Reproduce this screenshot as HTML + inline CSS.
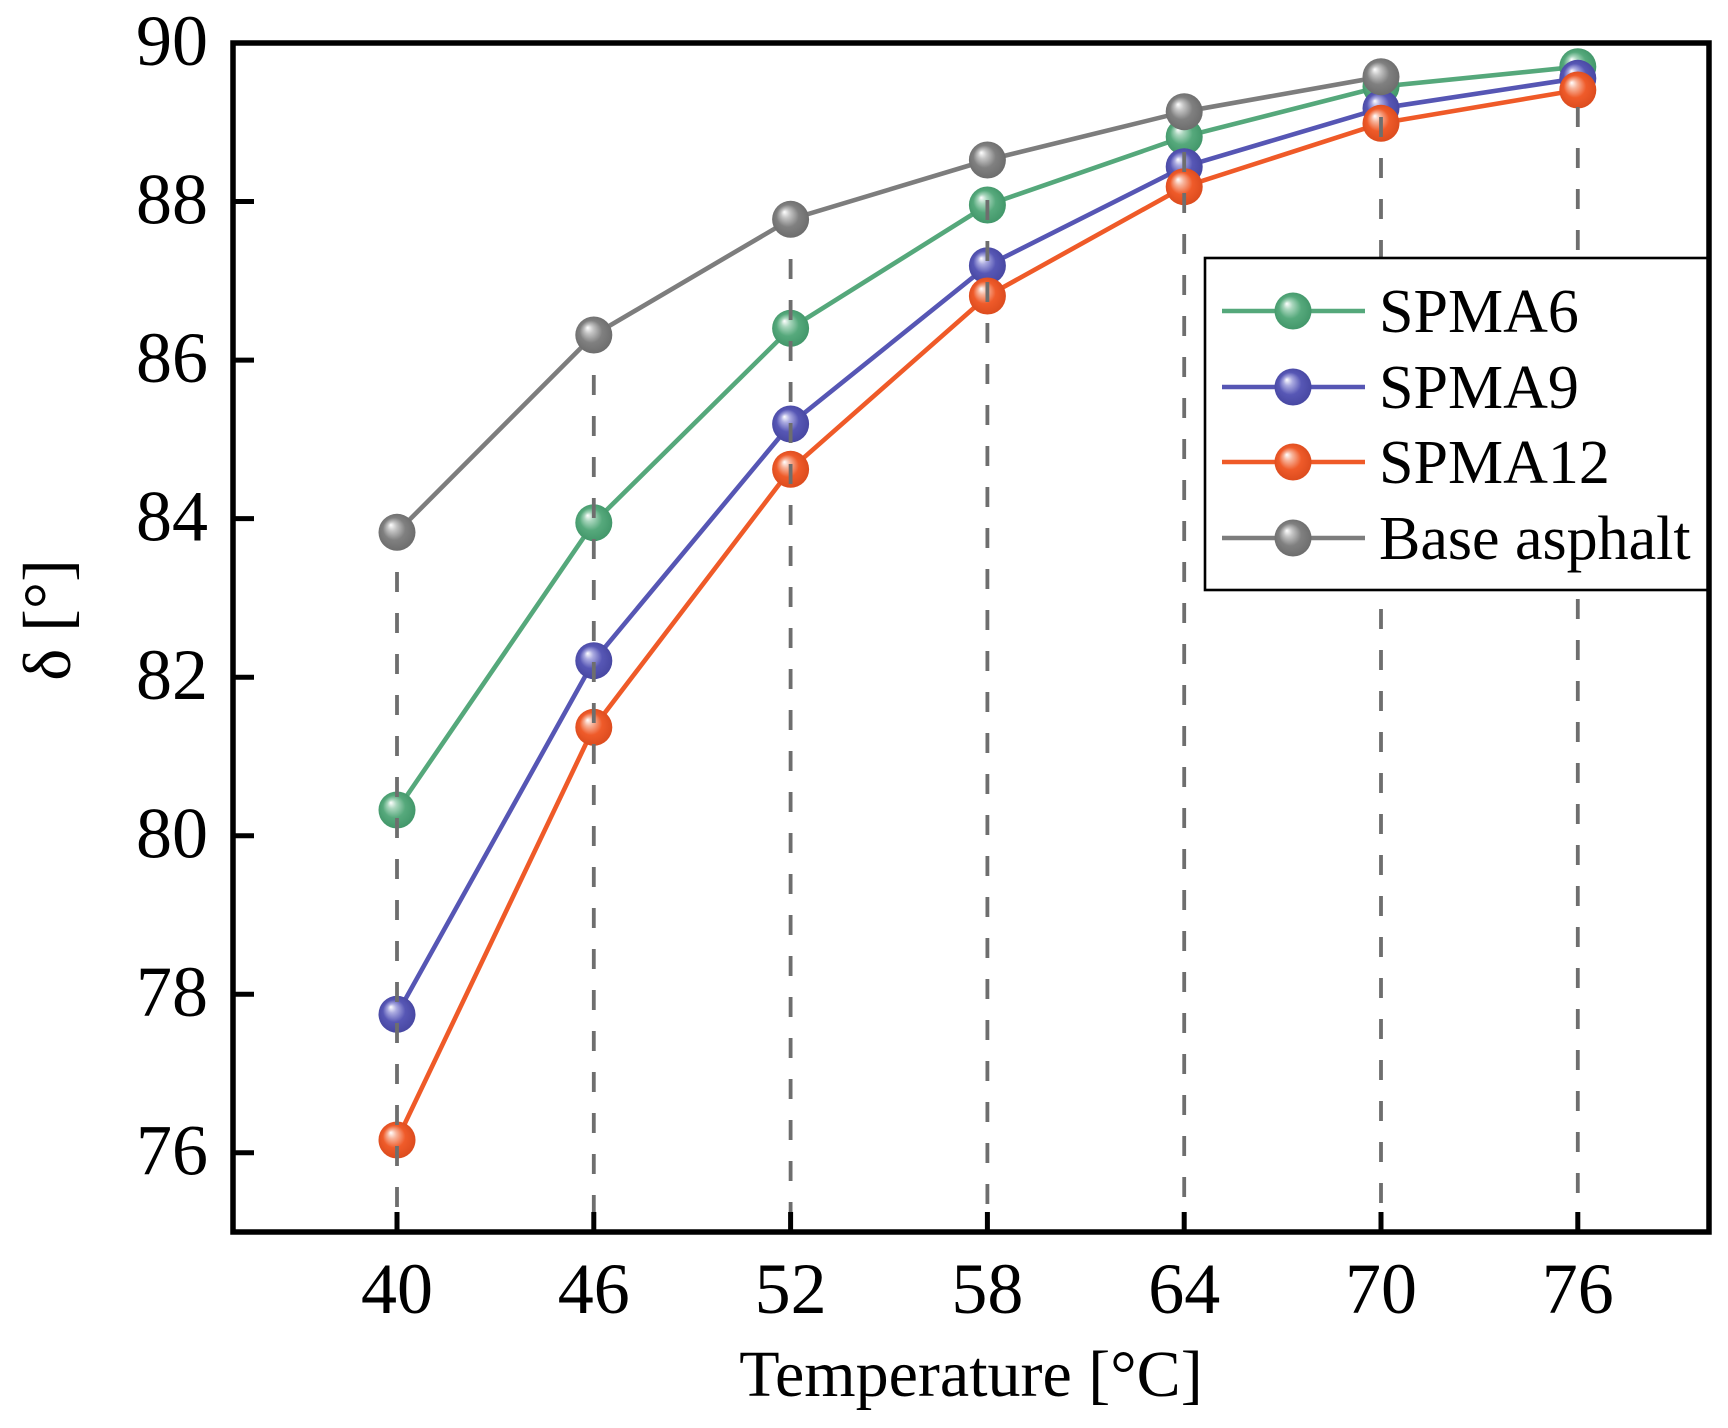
<!DOCTYPE html>
<html>
<head>
<meta charset="utf-8">
<style>
html,body{margin:0;padding:0;background:#fff;}
svg{display:block;}
text{font-family:"Liberation Serif","Times New Roman",serif;fill:#000;}
</style>
</head>
<body>
<svg width="1728" height="1428" viewBox="0 0 1728 1428" xmlns="http://www.w3.org/2000/svg">
<defs>
  <radialGradient id="gG" cx="0.5" cy="0.5" r="0.55" fx="0.33" fy="0.3">
    <stop offset="0" stop-color="#ffffff"/>
    <stop offset="0.22" stop-color="#a9d6bd"/>
    <stop offset="0.55" stop-color="#56a97c"/>
    <stop offset="1" stop-color="#3f9467"/>
  </radialGradient>
  <radialGradient id="gB" cx="0.5" cy="0.5" r="0.55" fx="0.33" fy="0.3">
    <stop offset="0" stop-color="#ffffff"/>
    <stop offset="0.22" stop-color="#aaaae0"/>
    <stop offset="0.55" stop-color="#5757b5"/>
    <stop offset="1" stop-color="#45459f"/>
  </radialGradient>
  <radialGradient id="gO" cx="0.5" cy="0.5" r="0.55" fx="0.33" fy="0.3">
    <stop offset="0" stop-color="#ffffff"/>
    <stop offset="0.22" stop-color="#f7b39a"/>
    <stop offset="0.55" stop-color="#ef5b2a"/>
    <stop offset="1" stop-color="#d9491c"/>
  </radialGradient>
  <radialGradient id="gK" cx="0.5" cy="0.5" r="0.55" fx="0.33" fy="0.3">
    <stop offset="0" stop-color="#ffffff"/>
    <stop offset="0.22" stop-color="#c4c4c4"/>
    <stop offset="0.55" stop-color="#808080"/>
    <stop offset="1" stop-color="#6a6a6a"/>
  </radialGradient>
</defs>

<rect width="1728" height="1428" fill="#fff"/>

<!-- series lines -->
<g fill="none" stroke-width="4.6" stroke-linejoin="round" stroke-linecap="round">
  <polyline stroke="#55a87b" points="397,810 593.8,522.7 790.6,328.3 987.4,205 1184.2,136.7 1381,86.6 1577.8,66.7"/>
  <polyline stroke="#5656b4" points="397,1014.3 593.8,660.7 790.6,424 987.4,265.7 1184.2,166.7 1381,108.3 1577.8,78.3"/>
  <polyline stroke="#ef5a28" points="397,1140 593.8,727.3 790.6,469.3 987.4,296 1184.2,186.7 1381,123.3 1577.8,90"/>
  <polyline stroke="#7d7d7d" points="397,532.3 593.8,335 790.6,219.3 987.4,160 1184.2,111.7 1381,76.7"/>
</g>

<!-- markers: green -->
<g fill="url(#gG)">
  <circle cx="397" cy="810" r="18.5"/>
  <circle cx="593.8" cy="522.7" r="18.5"/>
  <circle cx="790.6" cy="328.3" r="18.5"/>
  <circle cx="987.4" cy="205" r="18.5"/>
  <circle cx="1184.2" cy="136.7" r="18.5"/>
  <circle cx="1381" cy="86.6" r="18.5"/>
  <circle cx="1577.8" cy="66.7" r="18.5"/>
</g>
<!-- blue -->
<g fill="url(#gB)">
  <circle cx="397" cy="1014.3" r="18.5"/>
  <circle cx="593.8" cy="660.7" r="18.5"/>
  <circle cx="790.6" cy="424" r="18.5"/>
  <circle cx="987.4" cy="265.7" r="18.5"/>
  <circle cx="1184.2" cy="166.7" r="18.5"/>
  <circle cx="1381" cy="108.3" r="18.5"/>
  <circle cx="1577.8" cy="78.3" r="18.5"/>
</g>
<!-- orange -->
<g fill="url(#gO)">
  <circle cx="397" cy="1140" r="18.5"/>
  <circle cx="593.8" cy="727.3" r="18.5"/>
  <circle cx="790.6" cy="469.3" r="18.5"/>
  <circle cx="987.4" cy="296" r="18.5"/>
  <circle cx="1184.2" cy="186.7" r="18.5"/>
  <circle cx="1381" cy="123.3" r="18.5"/>
  <circle cx="1577.8" cy="90" r="18.5"/>
</g>
<!-- gray -->
<g fill="url(#gK)">
  <circle cx="397" cy="532.3" r="18.5"/>
  <circle cx="593.8" cy="335" r="18.5"/>
  <circle cx="790.6" cy="219.3" r="18.5"/>
  <circle cx="987.4" cy="160" r="18.5"/>
  <circle cx="1184.2" cy="111.7" r="18.5"/>
  <circle cx="1381" cy="76.7" r="18.5"/>
</g>

<!-- dashed drop lines -->
<g stroke="#6e6e6e" stroke-width="3.8" stroke-dasharray="20 21" fill="none">
  <line x1="397" y1="572" x2="397" y2="1232"/>
  <line x1="593.8" y1="375" x2="593.8" y2="1232"/>
  <line x1="790.6" y1="259" x2="790.6" y2="1232"/>
  <line x1="987.4" y1="200" x2="987.4" y2="1232"/>
  <line x1="1184.2" y1="152" x2="1184.2" y2="1232"/>
  <line x1="1381" y1="117" x2="1381" y2="1232"/>
  <line x1="1577.8" y1="107" x2="1577.8" y2="1232"/>
</g>

<!-- legend -->
<rect x="1205" y="258" width="504" height="332" fill="#fff" stroke="#000" stroke-width="2.6"/>
<g stroke-width="4.6">
  <line x1="1222" y1="311" x2="1365" y2="311" stroke="#55a87b"/>
  <line x1="1222" y1="387" x2="1365" y2="387" stroke="#5656b4"/>
  <line x1="1222" y1="462" x2="1365" y2="462" stroke="#ef5a28"/>
  <line x1="1222" y1="538" x2="1365" y2="538" stroke="#7d7d7d"/>
</g>
<circle cx="1293" cy="311" r="18.5" fill="url(#gG)"/>
<circle cx="1293" cy="387" r="18.5" fill="url(#gB)"/>
<circle cx="1293" cy="462" r="18.5" fill="url(#gO)"/>
<circle cx="1293" cy="538" r="18.5" fill="url(#gK)"/>
<g font-size="62">
  <text x="1379" y="332">SPMA6</text>
  <text x="1379" y="408">SPMA9</text>
  <text x="1379" y="483">SPMA12</text>
  <text x="1379" y="559">Base asphalt</text>
</g>

<!-- axes frame -->
<rect x="233" y="43" width="1476" height="1189" fill="none" stroke="#000" stroke-width="5.5"/>

<!-- x ticks -->
<g stroke="#000" stroke-width="5">
  <line x1="397" y1="1212" x2="397" y2="1232"/>
  <line x1="593.8" y1="1212" x2="593.8" y2="1232"/>
  <line x1="790.6" y1="1212" x2="790.6" y2="1232"/>
  <line x1="987.4" y1="1212" x2="987.4" y2="1232"/>
  <line x1="1184.2" y1="1212" x2="1184.2" y2="1232"/>
  <line x1="1381" y1="1212" x2="1381" y2="1232"/>
  <line x1="1577.8" y1="1212" x2="1577.8" y2="1232"/>
</g>
<!-- y ticks -->
<g stroke="#000" stroke-width="5">
  <line x1="233" y1="201.5" x2="254" y2="201.5"/>
  <line x1="233" y1="360.1" x2="254" y2="360.1"/>
  <line x1="233" y1="518.6" x2="254" y2="518.6"/>
  <line x1="233" y1="677.2" x2="254" y2="677.2"/>
  <line x1="233" y1="835.7" x2="254" y2="835.7"/>
  <line x1="233" y1="994.2" x2="254" y2="994.2"/>
  <line x1="233" y1="1152.8" x2="254" y2="1152.8"/>
</g>

<!-- x tick labels -->
<g font-size="72" text-anchor="middle">
  <text x="397" y="1313">40</text>
  <text x="593.8" y="1313">46</text>
  <text x="790.6" y="1313">52</text>
  <text x="987.4" y="1313">58</text>
  <text x="1184.2" y="1313">64</text>
  <text x="1381" y="1313">70</text>
  <text x="1577.8" y="1313">76</text>
</g>
<!-- y tick labels -->
<g font-size="72" text-anchor="end">
  <text x="208" y="65">90</text>
  <text x="208" y="223.5">88</text>
  <text x="208" y="382">86</text>
  <text x="208" y="540.5">84</text>
  <text x="208" y="699">82</text>
  <text x="208" y="857.5">80</text>
  <text x="208" y="1016">78</text>
  <text x="208" y="1174.5">76</text>
</g>

<!-- axis titles -->
<text x="971" y="1396" font-size="66" text-anchor="middle">Temperature [°C]</text>
<text transform="translate(70,620) rotate(-90)" font-size="68" text-anchor="middle">δ [°]</text>
</svg>
</body>
</html>
